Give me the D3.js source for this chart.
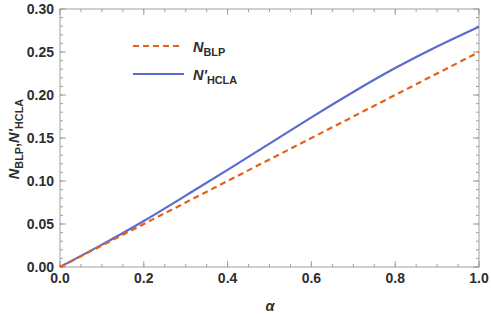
<!DOCTYPE html>
<html>
<head>
<meta charset="utf-8">
<script src="https://cdn.jsdelivr.net/npm/d3@7"></script>
<style>
  body { margin: 0; background: #fff; }
  text { font-family: "Liberation Sans", Arial, sans-serif; }
</style>
</head>
<body>
<svg id="chart"></svg>
<script>
// data
var alpha = [0, 0.1, 0.2, 0.3, 0.4, 0.5, 0.6, 0.7, 0.8, 0.9, 1.0];
var nBLP = [0, 0.025, 0.05, 0.075, 0.1, 0.125, 0.15, 0.175, 0.2, 0.225, 0.25];
var nHCLA = [0, 0.026, 0.0535, 0.083, 0.113, 0.1435, 0.174, 0.2035, 0.2313, 0.2565, 0.2795];
var xTicks = [0, 0.2, 0.4, 0.6, 0.8, 1.0];
var yTicks = [0, 0.05, 0.10, 0.15, 0.20, 0.25, 0.30];

var W = 491, H = 315;
var pL = 60, pR = 479, pT = 9, pB = 267;

var svg = d3.select("#chart").attr("width", W).attr("height", H);

var x = d3.scaleLinear().domain([0, 1]).range([pL, pR]);
var y = d3.scaleLinear().domain([0, 0.3]).range([pB, pT]);

var frameCol = "#a0a0a0", labelCol = "#2e2e2e";

// minor ticks
var xMinor = d3.range(0, 1.0001, 0.05);
var yMinor = d3.range(0, 0.3001, 0.01);

function tickSet(g, axis, vals, len) {
  var horiz = axis == "b" || axis == "t";
  g.selectAll(null).data(vals).enter().append("line")
    .attr("x1", function(d){ return horiz ? x(d) : (axis == "l" ? pL : pR); })
    .attr("x2", function(d){ return horiz ? x(d) : (axis == "l" ? pL + len : pR - len); })
    .attr("y1", function(d){ return horiz ? (axis == "b" ? pB : pT) : y(d); })
    .attr("y2", function(d){ return horiz ? (axis == "b" ? pB - len : pT + len) : y(d); })
    .attr("stroke", frameCol).attr("stroke-width", 1);
}

var tg = svg.append("g");
["b", "t"].forEach(function(a){
  tickSet(tg, a, xMinor, 3);
  tickSet(tg, a, xTicks, 6);
});
["l", "r"].forEach(function(a){
  tickSet(tg, a, yMinor, 3);
  tickSet(tg, a, yTicks, 6);
});

svg.append("rect")
  .attr("x", pL).attr("y", pT)
  .attr("width", pR - pL).attr("height", pB - pT)
  .attr("fill", "none").attr("stroke", frameCol).attr("stroke-width", 1);

// tick labels
svg.selectAll(".xl").data(xTicks).enter().append("text")
  .attr("x", function(d){ return x(d); })
  .attr("y", 283)
  .attr("text-anchor", "middle")
  .attr("font-size", 14).attr("font-weight", "bold").attr("fill", labelCol)
  .text(function(d){ return d3.format(".1f")(d); });

svg.selectAll(".yl").data(yTicks).enter().append("text")
  .attr("x", 54)
  .attr("y", function(d){ return y(d) + 5; })
  .attr("text-anchor", "end")
  .attr("font-size", 14).attr("font-weight", "bold").attr("fill", labelCol)
  .text(function(d){ return d3.format(".2f")(d); });

// lines
var pts = function(vals){ return alpha.map(function(a, i){ return [a, vals[i]]; }); };
var line = d3.line()
  .x(function(d){ return x(d[0]); })
  .y(function(d){ return y(d[1]); })
  .curve(d3.curveNatural);

var orange = "#e6601a", blue = "#5a6ccd";

svg.append("path").attr("d", line(pts(nHCLA)))
  .attr("fill", "none").attr("stroke", blue).attr("stroke-width", 2.2);
svg.append("path").attr("d", line(pts(nBLP)))
  .attr("fill", "none").attr("stroke", orange).attr("stroke-width", 2.2)
  .attr("stroke-dasharray", "6,4");

// legend
svg.append("line").attr("x1", 133).attr("x2", 181).attr("y1", 46).attr("y2", 46)
  .attr("stroke", orange).attr("stroke-width", 2.2).attr("stroke-dasharray", "6,4");
svg.append("line").attr("x1", 133).attr("x2", 184).attr("y1", 74).attr("y2", 74)
  .attr("stroke", blue).attr("stroke-width", 2.2);

function label(sel, prime, sub) {
  sel.append("tspan").attr("font-style", "italic").attr("font-weight", "bold").text("N" + prime);
  sel.append("tspan").attr("font-weight", "bold").attr("font-size", "0.75em").attr("dy", 4).text(sub);
}
var t1 = svg.append("text").attr("x", 193).attr("y", 52).attr("font-size", 14.5).attr("fill", labelCol);
label(t1, "", "BLP");
var t2 = svg.append("text").attr("x", 193).attr("y", 80).attr("font-size", 14.5).attr("fill", labelCol);
label(t2, "'", "HCLA");

// axis titles
svg.append("text").attr("x", 270).attr("y", 311)
  .attr("text-anchor", "middle").attr("font-size", 14.5)
  .attr("font-style", "italic").attr("font-weight", "bold").attr("fill", labelCol)
  .text("α");

var yt = svg.append("text")
  .attr("transform", "translate(19,139) rotate(-90)")
  .attr("text-anchor", "middle").attr("font-size", 14.5).attr("fill", labelCol);
yt.append("tspan").attr("font-style", "italic").attr("font-weight", "bold").text("N");
yt.append("tspan").attr("font-weight", "bold").attr("font-size", "0.75em").attr("dy", 4).text("BLP");
yt.append("tspan").attr("font-weight", "bold").attr("dy", -4).text(",");
yt.append("tspan").attr("font-style", "italic").attr("font-weight", "bold").text("N'");
yt.append("tspan").attr("font-weight", "bold").attr("font-size", "0.75em").attr("dy", 4).text("HCLA");
</script>
</body>
</html>
